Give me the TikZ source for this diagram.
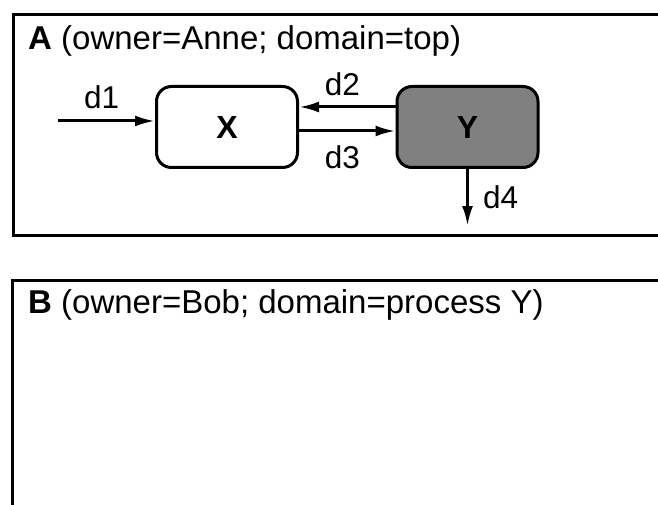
\documentclass[tikz,border=0pt]{standalone}
\usepackage{fontspec}
\setmainfont{Liberation Sans}
\usetikzlibrary{arrows.meta,positioning}

\definecolor{ygray}{RGB}{128,128,128}

\begin{document}
\begin{tikzpicture}[
    x=1pt, y=-1pt,
    domainbox/.style={draw, line width=3pt},
    proc/.style={rectangle, draw, line width=3pt, rounded corners=15pt, minimum width=141pt, minimum height=81pt, font=\fontsize{32}{38}\selectfont\bfseries},
    title/.style={anchor=base west, inner sep=0pt, font=\fontsize{33}{40}\selectfont},
    lbl/.style={inner sep=0pt, font=\fontsize{31.5}{38}\selectfont},
    arrow/.style={-{Latex[length=20pt,width=11pt]}, line width=3pt}
]
\useasboundingbox (0,0) rectangle (658,505);
\clip (0,0) rectangle (658,505);

% domains
\draw[domainbox] (13.5,14.5) rectangle (700,235.5);
\node[title] (tA) at (28,50) {\textbf{A} (owner=Anne; domain=top)};
\draw[domainbox] (12.5,280.5) rectangle (700,560);
\node[title] (tB) at (28,313) {\textbf{B} (owner=Bob; domain=process Y)};

% processes
\node[proc, fill=white] (X) at (227,127) {X};
\node[proc, fill=ygray] (Y) at (467.5,127) {Y};

\coordinate (in1) at (58,121);
\coordinate (out4) at ([yshift=-57pt]Y.south);

% flows
\draw[arrow] (in1) -- node[lbl, above=11pt, pos=0.45] {d1} ([yshift=6pt]X.west);
\draw[arrow] ([yshift=20pt]Y.west) -- node[lbl, above=10pt, pos=0.55] {d2} ([yshift=20pt]X.east);
\draw[arrow] ([yshift=-4pt]X.east) -- node[lbl, below=13pt, pos=0.45] {d3} ([yshift=-4pt]Y.west);
\draw[arrow] (Y.south) -- node[lbl, right=14pt] {d4} (out4);

\end{tikzpicture}
\end{document}
